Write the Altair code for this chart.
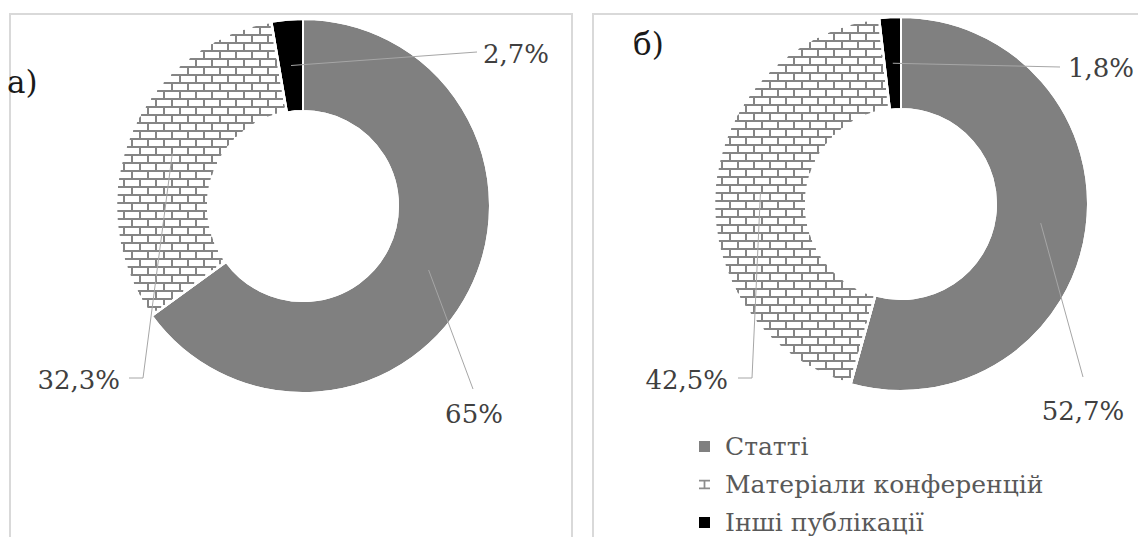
import altair as alt
import numpy as np
import pandas as pd

# ---- data ----------------------------------------------------------------
categories = ["Статті", "Матеріали конференцій", "Інші публікації"]
shares_a = [65.0, 32.3, 2.7]
shares_b = [52.7, 42.5, 1.8]
panel_tags = ["а)", "б)"]

# ---- look ----------------------------------------------------------------
FONT = "DejaVu Serif"
SLICE_FILL = ["#808080", "#ffffff", "#000000"]
LEGEND_FILL = ["#808080", "#8c8c8c", "#000000"]
MORTAR = "#858585"
FRAME = "#d9d9d9"
LEADER = "#a6a6a6"
LABEL_COLOR = "#404040"
R_OUT, R_IN = 187, 95
BRICK_H, BRICK_W = 8, 16
BRICK_GLYPH = ("M-1,-0.85H1V-0.55H-1Z M-0.16,-0.55H0.16V0.55H-0.16Z "
               "M-1,0.55H1V0.85H-1Z")

# view sizes (px) and donut centres inside each view
LEFT_W, RIGHT_W, VIEW_H = 567, 546, 524
CENTER_A = (297, 193)
CENTER_B = (309, 191)

# data-label layout relative to the donut centre:
# (text x, baseline y, align, leader end x, leader end y, elbow point)
LABELS_A = [
    (171, 217, "center", 170, 183, None),
    (-183, 183, "right", -174, 172, (-160, 172)),
    (180, -143, "left", 174, -154, None),
]
LABELS_B = [
    (182, 216, "center", 182, 173, None),
    (-173, 185, "right", -163, 174, (-149, 174)),
    (167, -127, "left", 159, -137, None),
]


def slice_bounds(shares):
    total = float(sum(shares))
    edges = np.concatenate([[0.0], np.cumsum(shares)]) / total * 360.0
    return edges[:-1], edges[1:]


def runs(mask, coords):
    m = np.concatenate([[0], mask.astype(int), [0]])
    d = np.diff(m)
    starts = np.where(d == 1)[0]
    ends = np.where(d == -1)[0] - 1
    return [(coords[a], coords[b]) for a, b in zip(starts, ends) if b > a]


def brick_segments(a0, a1):
    """Mortar lines of a horizontal-brick texture clipped to one ring sector."""
    def inside(px, py):
        r = np.hypot(px, py)
        ang = np.degrees(np.arctan2(px, -py)) % 360
        margin = np.degrees(1.5 / np.maximum(r, 1))
        return ((r > R_IN + 1) & (r < R_OUT - 1)
                & (ang > a0 + margin) & (ang < a1 - margin))

    segs = []
    fine = np.arange(-R_OUT, R_OUT + 0.25, 0.25)
    rows = np.arange(-R_OUT - BRICK_H, R_OUT + BRICK_H, BRICK_H)
    for k, y in enumerate(rows):
        for xa, xb in runs(inside(fine, np.full_like(fine, y)), fine):
            segs.append((xa, xb, y, y))
        shift = (k % 2) * BRICK_W / 2
        ys = np.arange(y, y + BRICK_H + 0.25, 0.25)
        for x in np.arange(-R_OUT - BRICK_W + shift, R_OUT + BRICK_W, BRICK_W):
            for ya, yb in runs(inside(np.full_like(ys, x), ys), ys):
                segs.append((x, x, ya, yb))
    return pd.DataFrame(segs, columns=["x", "x2", "y", "y2"])


def pct(v):
    return f"{v:g}%".replace(".", ",")


def donut_panel(shares, tag, width, center, labels, tag_pos, frame_x2, legend):
    cx, cy = center
    xs = alt.Scale(domain=[-cx, width - cx], nice=False, zero=False)
    ys = alt.Scale(domain=[-cy, VIEW_H - cy], nice=False, zero=False, reverse=True)
    df = pd.DataFrame({"category": categories, "share": shares, "idx": range(len(shares))})
    a0, a1 = slice_bounds(shares)

    layers = []

    frame = alt.Chart(pd.DataFrame({"k": [0]})).mark_rect(
        fillOpacity=0, stroke=FRAME, strokeWidth=2, clip=True
    ).encode(
        x=alt.value(frame_x2[0]), x2=alt.value(frame_x2[1]),
        y=alt.value(1), y2=alt.value(VIEW_H + 60),
    )
    layers.append(frame)

    if legend:
        leg = alt.Legend(
            title=None, orient="none", legendX=100, legendY=421,
            labelFont=FONT, labelFontSize=25, labelColor="#595959",
            symbolSize=121, symbolStrokeWidth=0, labelOffset=8,
            rowPadding=12, labelLimit=500,
        )
        keys = alt.Chart(df).mark_point(filled=True, size=121, opacity=1).encode(
            x=alt.value(cx + 140), y=alt.value(cy),
            color=alt.Color("category:N", sort=categories,
                            scale=alt.Scale(domain=categories, range=LEGEND_FILL), legend=leg),
            shape=alt.Shape("category:N", sort=categories,
                            scale=alt.Scale(domain=categories,
                                            range=["square", BRICK_GLYPH, "square"]),
                            legend=leg),
        )
        layers.append(keys)

    arcs = alt.Chart(df).mark_arc(
        innerRadius=R_IN, outerRadius=R_OUT, stroke="white", strokeWidth=2
    ).encode(
        theta=alt.Theta("share:Q", stack=True),
        order=alt.Order("idx:Q"),
        fill=alt.Fill("category:N", scale=alt.Scale(domain=categories, range=SLICE_FILL),
                      legend=None),
        x=alt.value(cx), y=alt.value(cy),
    )
    layers.append(arcs)

    bricks = alt.Chart(brick_segments(a0[1], a1[1])).mark_rule(
        color=MORTAR, strokeWidth=2
    ).encode(
        x=alt.X("x:Q", scale=xs, axis=None), x2="x2:Q",
        y=alt.Y("y:Q", scale=ys, axis=None), y2="y2:Q",
    )
    layers.append(bricks)

    edges = alt.Chart(df).mark_arc(
        innerRadius=R_IN, outerRadius=R_OUT, fillOpacity=0, stroke="white", strokeWidth=2
    ).encode(
        theta=alt.Theta("share:Q", stack=True),
        order=alt.Order("idx:Q"),
        detail="category:N",
        x=alt.value(cx), y=alt.value(cy),
    )
    layers.append(edges)

    # leader lines from the middle of each slice to its label
    r_mid = (R_IN + R_OUT) / 2
    pts = []
    for i, (tx, ty, align, ex, ey, elbow) in enumerate(labels):
        mid = np.radians((a0[i] + a1[i]) / 2)
        chain = [(r_mid * np.sin(mid), -r_mid * np.cos(mid))]
        if elbow is not None:
            chain.append(elbow)
        chain.append((ex, ey))
        for j, (px, py) in enumerate(chain):
            pts.append({"lab": i, "pt": j, "x": px, "y": py})
    leaders = alt.Chart(pd.DataFrame(pts)).mark_line(color=LEADER, strokeWidth=1).encode(
        x=alt.X("x:Q", scale=xs, axis=None),
        y=alt.Y("y:Q", scale=ys, axis=None),
        detail="lab:N",
        order="pt:Q",
    )
    layers.append(leaders)

    for i, (tx, ty, align, ex, ey, elbow) in enumerate(labels):
        t = alt.Chart(pd.DataFrame({"x": [tx], "y": [ty], "t": [pct(shares[i])]})).mark_text(
            align=align, baseline="alphabetic", font=FONT, fontSize=26, color=LABEL_COLOR
        ).encode(
            x=alt.X("x:Q", scale=xs, axis=None),
            y=alt.Y("y:Q", scale=ys, axis=None),
            text="t:N",
        )
        layers.append(t)

    tag_mark = alt.Chart(pd.DataFrame({"t": [tag]})).mark_text(
        align="left", baseline="alphabetic", font=FONT, fontSize=31, color="#1a1a1a"
    ).encode(x=alt.value(tag_pos[0]), y=alt.value(tag_pos[1]), text="t:N")
    layers.append(tag_mark)

    return alt.layer(*layers).properties(width=width, height=VIEW_H)


left = donut_panel(shares_a, panel_tags[0], LEFT_W, CENTER_A, LABELS_A, (1, 80), (4, 566), False)
right = donut_panel(shares_b, panel_tags[1], RIGHT_W, CENTER_B, LABELS_B, (41, 42), (1, 700), True)

chart = alt.hconcat(left, right, spacing=19).resolve_scale(
    color="independent", fill="independent", shape="independent"
).properties(
    padding={"left": 6, "top": 13, "right": 0, "bottom": 0},
    background="white",
).configure_view(stroke=None)

chart.save("out.html", embed_options={"renderer": "svg", "actions": False})
